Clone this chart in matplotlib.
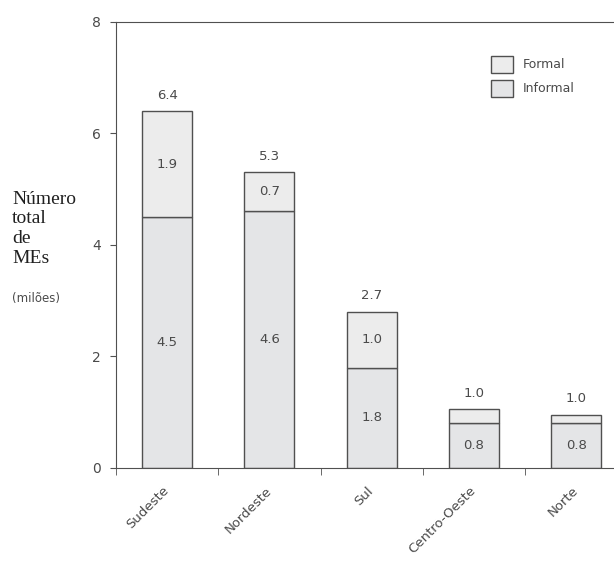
import numpy as np
import matplotlib
matplotlib.use("Agg")
import matplotlib.pyplot as plt

# Dados (milhões de MEs)
regioes = ["Sudeste", "Nordeste", "Sul", "Centro-Oeste", "Norte"]
informal = [4.5, 4.6, 1.8, 0.8, 0.8]
formal = [1.9, 0.7, 1.0, 0.25, 0.15]
rotulo_inf = ["4.5", "4.6", "1.8", "0.8", "0.8"]
rotulo_for = ["1.9", "0.7", "1.0", "", ""]
rotulo_tot = ["6.4", "5.3", "2.7", "1.0", "1.0"]
y_ticks = [0, 2, 4, 6, 8]

plt.rcParams["font.family"] = ["DejaVu Sans"]
txt = "#4a4a4a"
borda = "#505050"

fig = plt.figure(figsize=(6.14, 5.61), dpi=100)
ax = fig.add_axes([0.189, 0.166, 0.811, 0.795])

x = np.arange(len(regioes))
largura = 0.49
b1 = ax.bar(x, informal, largura, color="#e4e5e7", edgecolor=borda, linewidth=1, label="Informal")
b2 = ax.bar(x, formal, largura, bottom=informal, color="#ececec", edgecolor=borda, linewidth=1, label="Formal")

ax.set_ylim(0, 8)
ax.set_xlim(-0.5, 4.37)
ax.set_yticks(y_ticks)
ax.set_yticklabels([str(v) for v in y_ticks], color=txt, fontsize=10)
ax.tick_params(axis="y", length=4, color=borda, pad=7)

# rótulos das regiões no centro, traços nas divisões
ax.set_xticks(x)
ax.set_xticklabels(regioes, rotation=45, ha="right", va="center",
                   rotation_mode="anchor", color=txt, fontsize=9.5)
ax.tick_params(axis="x", length=0, pad=15)
ax.set_xticks(np.arange(len(regioes)) - 0.5, minor=True)
ax.tick_params(axis="x", which="minor", length=5, color=borda)

for s in ["left", "bottom", "top"]:
    ax.spines[s].set_color(borda)
ax.spines["right"].set_visible(False)

for i in range(len(regioes)):
    ax.text(x[i], informal[i] / 2, rotulo_inf[i], ha="center", va="center",
            color=txt, fontsize=9.5)
    if rotulo_for[i]:
        ax.text(x[i], informal[i] + formal[i] / 2, rotulo_for[i], ha="center", va="center",
                color=txt, fontsize=9.5)
    ax.text(x[i], informal[i] + formal[i] + 0.17, rotulo_tot[i], ha="center", va="bottom",
            color=txt, fontsize=9.5)

leg = ax.legend(handles=[b2, b1], loc="upper left", bbox_to_anchor=(0.79, 0.912),
                bbox_transform=fig.transFigure, frameon=False, borderpad=0,
                handlelength=1.75, handleheight=1.75, labelspacing=0.55, handletextpad=0.8,
                fontsize=9)
for t in leg.get_texts():
    t.set_color(txt)

fig.text(0.02, 0.66, "Número\ntotal\nde\nMEs", fontsize=14, family="Liberation Serif",
         va="top", ha="left", linespacing=1.2, color="#202020")
fig.text(0.02, 0.48, "(milões)", fontsize=8.5, va="top", ha="left", color=txt)

plt.savefig("out.png")
plt.close()
